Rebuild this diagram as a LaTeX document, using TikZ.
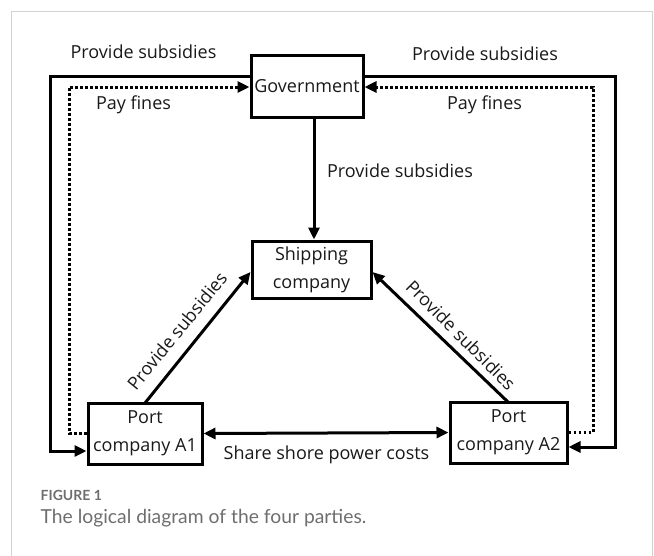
\documentclass[tikz,border=0pt]{standalone}
\usepackage{fontspec}
\setmainfont{Open Sans}
\newfontfamily\capfont{Lato}
\usetikzlibrary{arrows.meta}
\definecolor{capgray}{RGB}{110,110,110}
\definecolor{txtgray}{RGB}{25,25,25}
\definecolor{framegray}{RGB}{210,210,210}
\begin{document}
\begin{tikzpicture}[x=1pt,y=-1pt,
  box/.style={draw,line width=3pt,minimum width=#1,inner sep=0pt,align=center,text=txtgray,font=\fontsize{18}{28}\selectfont},
  lbl/.style={font=\fontsize{18}{20}\selectfont,inner sep=0pt,text=txtgray},
  sarr/.style={line width=3pt,-{Triangle[length=12pt,width=11pt]}},
  darr/.style={line width=3pt,{Triangle[length=12pt,width=11pt]}-{Triangle[length=12pt,width=11pt]}},
  dline/.style={line width=3pt,dash pattern=on 2.7pt off 2.3pt},
  darrow/.style={dline,-{Triangle[length=12pt,width=11pt]}}]
\useasboundingbox (0,0) rectangle (654,555);
\draw[framegray,line width=1pt] (11,560) -- (11,11) -- (652.5,11) -- (652.5,560);
% nodes
\node[box=112pt,minimum height=62pt] (gov) at (307,86) {Government};
\node[box=119pt,minimum height=57pt] (ship) at (311.5,269.5) {Shipping\\company};
\node[box=114pt,minimum height=61pt] (a1) at (145,433.5) {Port\\company A1};
\node[box=117pt,minimum height=61pt] (a2) at (508.5,432.5) {Port\\company A2};
% corner coordinates
\coordinate (lsc) at (50,76);
\coordinate (ldc) at (69,87);
\coordinate (rsc) at (615,76);
\coordinate (rdc) at (593,87);
\coordinate (a1t) at (145,403);
\coordinate (a2t) at (508,402);
% solid subsidy lines
\draw[sarr,line join=miter] ([yshift=10pt]gov.west) -- (lsc) |- ([yshift=-17.5pt]a1.west);
\draw[sarr,line join=miter] ([yshift=10pt]gov.east) -- (rsc) |- ([yshift=-14.5pt]a2.east);
% dotted fines lines
\draw[darrow] (a1.west) -| (ldc) -- (ldc -| gov.west);
\draw[darrow] (a2.east) -| (rdc) -- (rdc -| gov.east);
% gov to shipping
\draw[sarr] (gov.south -| 314,0) -- (ship.north -| 314,0);
% ports to shipping
\draw[sarr] (a1t) -- ([yshift=-2.5pt]ship.west);
\draw[sarr] (a2t) -- ([yshift=-2.5pt]ship.east);
% shared cost
\draw[darr] (a1.east) -- (a2.west);
% labels
\node[lbl] (l1) at (143.5,52) {Provide subsidies};
\node[lbl] (l2) at (485,54) {Provide subsidies};
\node[lbl] (l3) at (133.5,104.5) {Pay fines};
\node[lbl] (l4) at (484.5,104.5) {Pay fines};
\node[lbl] (l5) at (400,171) {Provide subsidies};
\node[lbl,rotate=50.8] (l6) at (177,331) {Provide subsidies};
\node[lbl,rotate=-45] (l7) at (461,335) {Provide subsidies};
\node[lbl] (l8) at (326.5,455) {Share shore power costs};
% caption
\node[anchor=west,inner sep=0pt,text=capgray,font=\capfont\bfseries\fontsize{14}{16}\selectfont] (cap1) at (40.5,495) {FIGURE 1};
\node[anchor=west,inner sep=0pt,text=capgray,font=\capfont\fontsize{19.3}{22}\selectfont] (cap2) at (40.5,518) {The logical diagram of the four parties.};
\end{tikzpicture}
\end{document}
